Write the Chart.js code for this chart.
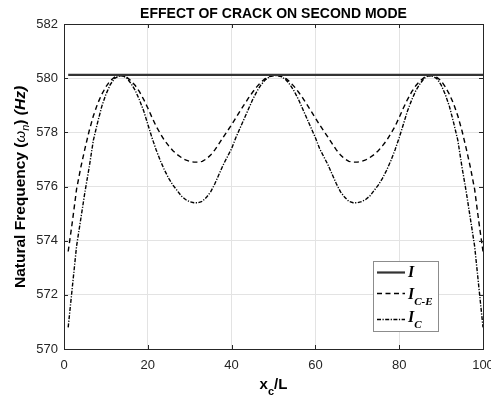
<!DOCTYPE html>
<html><head><meta charset="utf-8">
<script src="https://cdn.jsdelivr.net/npm/chart.js@4/dist/chart.umd.min.js"></script>
<style>html,body{margin:0;padding:0;background:#fff}#wrap{width:491px;height:398px}</style>
</head><body><div id="wrap"><canvas id="c" width="491" height="398"></canvas></div>
<script>
// ---- data ----
const crackX = [1,2,3,4,5,6,7,8,9,10,11,12,13,14,15,16,17,18,19,20,21,22,23,24,25,26,27,28,29,30,31,32,33,34,35,36,37,38,39,40,41,42,43,44,45,46,47,48,49,50,51,52,53,54,55,56,57,58,59,60,61,62,63,64,65,66,67,68,69,70,71,72,73,74,75,76,77,78,79,80,81,82,83,84,85,86,87,88,89,90,91,92,93,94,95,96,97,98,99,100];
const freqCE = [573.60,574.70,575.90,576.70,577.40,578.05,578.60,579.05,579.40,579.68,579.90,580.03,580.09,580.09,580.03,579.90,579.73,579.50,579.22,578.90,578.55,578.22,577.95,577.70,577.50,577.32,577.18,577.07,576.98,576.93,576.90,576.90,576.93,577.02,577.16,577.35,577.58,577.82,578.05,578.28,578.53,578.78,579.02,579.26,579.48,579.68,579.85,579.98,580.06,580.10,
580.10,580.06,579.98,579.85,579.68,579.48,579.26,579.02,578.78,578.53,578.28,578.05,577.82,577.58,577.35,577.16,577.02,576.93,576.90,576.90,576.93,576.98,577.07,577.18,577.32,577.50,577.70,577.95,578.22,578.55,578.90,579.22,579.50,579.73,579.90,580.03,580.09,580.09,580.03,579.90,579.68,579.40,579.05,578.60,578.05,577.40,576.70,575.90,574.70,573.60];
const freqC = [570.80,572.30,573.80,574.80,575.80,576.70,577.70,578.35,578.95,579.40,579.75,579.98,580.08,580.09,580.00,579.80,579.55,579.20,578.80,578.30,577.80,577.35,576.95,576.60,576.30,576.05,575.85,575.65,575.52,575.44,575.40,575.40,575.45,575.60,575.80,576.10,576.45,576.80,577.10,577.40,577.80,578.15,578.50,578.85,579.20,579.50,579.75,579.93,580.05,580.10,
580.10,580.05,579.93,579.75,579.50,579.20,578.85,578.50,578.15,577.80,577.40,577.10,576.80,576.45,576.10,575.80,575.60,575.45,575.40,575.40,575.44,575.52,575.65,575.85,576.05,576.30,576.60,576.95,577.35,577.80,578.30,578.80,579.20,579.55,579.80,580.00,580.09,580.08,579.98,579.75,579.40,578.95,578.35,577.70,576.70,575.80,574.80,573.80,572.30,570.80];
const intactX = [1, 100];
const freqIntact = [580.12, 580.12];
const xTicks = [0, 20, 40, 60, 80, 100];
const yTicks = [570, 572, 574, 576, 578, 580, 582];
const titleText = 'EFFECT OF CRACK ON SECOND MODE';
const legendMain = ['I', 'I', 'I'];
const legendSub = ['', 'C-E', 'C'];

// ---- styles ----
const INK = '#262626';
const SANS = '"Liberation Sans", Arial, sans-serif';
const SERIF = '"Liberation Serif", "Times New Roman", serif';

function pts(xs, ys) { return xs.map((x, i) => ({ x: x, y: ys[i] })); }

function richText(ctx, parts, x, y, align) {
  let w = 0;
  parts.forEach(p => { ctx.font = p.font; w += ctx.measureText(p.t).width; });
  let cx = align === 'center' ? x - w / 2 : x;
  parts.forEach(p => {
    ctx.font = p.font;
    ctx.fillText(p.t, cx, y + (p.dy || 0));
    cx += ctx.measureText(p.t).width;
  });
}

const decor = {
  id: 'decor',
  afterDatasetsDraw(chart) {
    const ctx = chart.ctx, a = chart.chartArea;
    const xs = chart.scales.x, ys = chart.scales.y;
    ctx.save();
    // box
    ctx.strokeStyle = INK; ctx.lineWidth = 1;
    ctx.strokeRect(Math.round(a.left) + 0.5, Math.round(a.top) + 0.5, Math.round(a.right - a.left), Math.round(a.bottom - a.top));
    // inward ticks on all sides
    ctx.beginPath();
    xTicks.forEach(v => {
      const px = Math.round(xs.getPixelForValue(v)) + 0.5;
      ctx.moveTo(px, a.bottom); ctx.lineTo(px, a.bottom - 4);
      ctx.moveTo(px, a.top); ctx.lineTo(px, a.top + 4);
    });
    yTicks.forEach(v => {
      const py = Math.round(ys.getPixelForValue(v)) + 0.5;
      ctx.moveTo(a.left, py); ctx.lineTo(a.left + 4, py);
      ctx.moveTo(a.right, py); ctx.lineTo(a.right - 4, py);
    });
    ctx.stroke();

    ctx.fillStyle = '#000';
    ctx.textBaseline = 'alphabetic';
    ctx.textAlign = 'left';
    // title
    richText(ctx, [{ t: titleText, font: 'bold 14px ' + SANS }], (a.left + a.right) / 2, 18, 'center');
    // x axis title
    richText(ctx, [
      { t: 'x', font: 'bold 15px ' + SANS },
      { t: 'c', font: 'bold 11px ' + SANS, dy: 6 },
      { t: '/L', font: 'bold 15px ' + SANS }
    ], (a.left + a.right) / 2, 389, 'center');
    // y axis title
    ctx.save();
    ctx.translate(25, 187);
    ctx.rotate(-Math.PI / 2);
    richText(ctx, [
      { t: 'Natural Frequency (', font: 'bold 15.5px ' + SANS },
      { t: 'ω', font: 'italic 15px ' + SANS },
      { t: 'n', font: 'italic 11px ' + SANS, dy: 4 },
      { t: ') ', font: 'bold 15.5px ' + SANS },
      { t: '(Hz)', font: 'bold italic 15.5px ' + SANS }
    ], 0, 0, 'center');
    ctx.restore();

    // legend
    const lx = 373, ly = 261, lw = 65, lh = 70;
    ctx.fillStyle = '#fff';
    ctx.fillRect(lx, ly, lw, lh);
    ctx.strokeStyle = '#8c8c8c'; ctx.lineWidth = 1;
    ctx.strokeRect(lx + 0.5, ly + 0.5, lw, lh);
    const rowsY = [272.5, 293.5, 319.5];
    const baseY = [277, 299, 322];
    chart.data.datasets.forEach((ds, i) => {
      ctx.save();
      ctx.strokeStyle = ds.borderColor; ctx.lineWidth = ds.borderWidth;
      ctx.setLineDash(ds.borderDash || []);
      ctx.beginPath(); ctx.moveTo(377, rowsY[i]); ctx.lineTo(405, rowsY[i]); ctx.stroke();
      ctx.restore();
      ctx.fillStyle = '#000';
      const parts = [{ t: legendMain[i], font: 'bold italic 16px ' + SERIF }];
      if (legendSub[i]) parts.push({ t: legendSub[i], font: 'bold italic 11px ' + SERIF, dy: 6 });
      richText(ctx, parts, 408, baseY[i], 'left');
    });
    ctx.restore();
  }
};

new Chart(document.getElementById('c'), {
  type: 'line',
  data: {
    datasets: [
      { label: 'I', data: pts(intactX, freqIntact), borderColor: '#333333', borderWidth: 2.2, pointRadius: 0, tension: 0 },
      { label: 'I_C-E', data: pts(crackX, freqCE), borderColor: '#000', borderWidth: 1.4, borderDash: [5, 3.5], pointRadius: 0, tension: 0 },
      { label: 'I_C', data: pts(crackX, freqC), borderColor: '#000', borderWidth: 1.4, borderDash: [4, 1.5, 1.2, 1.5], pointRadius: 0, tension: 0 }
    ]
  },
  options: {
    responsive: false,
    animation: false,
    events: [],
    layout: { padding: { left: 0, top: 24, right: 8, bottom: 0 } },
    plugins: { legend: { display: false }, title: { display: false }, tooltip: { enabled: false } },
    scales: {
      x: {
        type: 'linear', min: 0, max: 100,
        afterBuildTicks: s => { s.ticks = xTicks.map(v => ({ value: v })); },
        afterFit: s => { s.height = 49; s.paddingLeft = 0; s.paddingRight = 0; },
        grid: { color: '#e3e3e3', drawTicks: false },
        border: { display: false },
        ticks: { color: INK, font: { family: SANS, size: 13 }, padding: 9, maxRotation: 0 }
      },
      y: {
        type: 'linear', min: 570, max: 582,
        afterBuildTicks: s => { s.ticks = yTicks.map(v => ({ value: v })); },
        afterFit: s => { s.width = 64; s.paddingTop = 0; s.paddingBottom = 0; },
        grid: { color: '#e3e3e3', drawTicks: false },
        border: { display: false },
        ticks: { color: INK, font: { family: SANS, size: 13 }, padding: 6 }
      }
    }
  },
  plugins: [decor]
});
</script>
</body></html>
